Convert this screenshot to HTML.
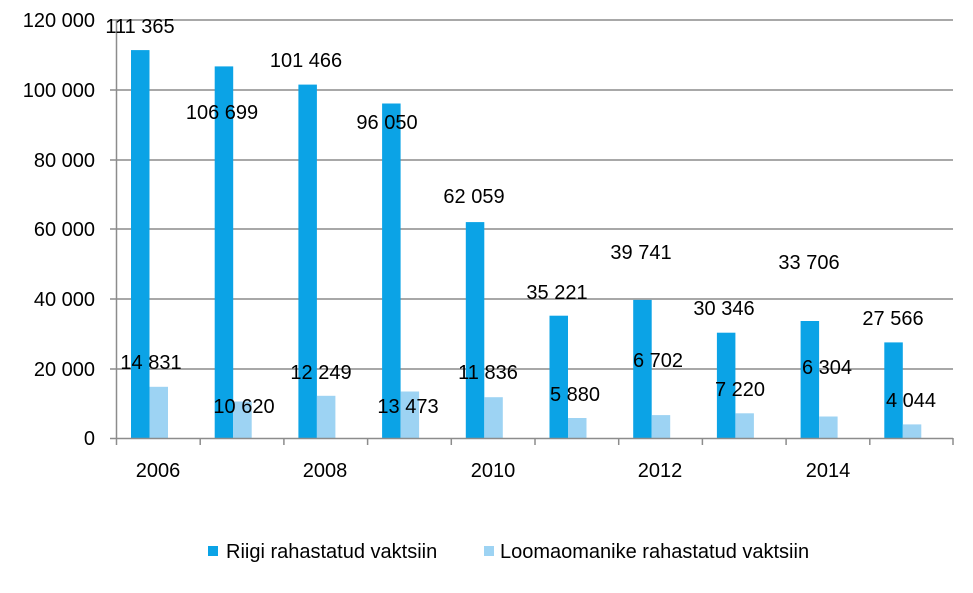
<!DOCTYPE html>
<html><head><meta charset="utf-8"><style>
body{margin:0;background:#fff;}
svg text{font-family:"Liberation Sans Narrow","Liberation Sans",sans-serif;font-size:20px;fill:#000;}
</style></head><body>
<svg width="973" height="588" xmlns="http://www.w3.org/2000/svg">
<g stroke="#8c8c8c" stroke-width="1.5">
<line x1="110" y1="20" x2="953" y2="20"/>
<line x1="110" y1="90" x2="953" y2="90"/>
<line x1="110" y1="160" x2="953" y2="160"/>
<line x1="110" y1="229" x2="953" y2="229"/>
<line x1="110" y1="299" x2="953" y2="299"/>
<line x1="110" y1="369" x2="953" y2="369"/>
</g>
<g fill="#0ba3e6">
<rect x="131" y="50.1" width="18.5" height="388.4"/>
<rect x="214.7" y="66.4" width="18.5" height="372.1"/>
<rect x="298.4" y="84.6" width="18.5" height="353.9"/>
<rect x="382.1" y="103.5" width="18.5" height="335"/>
<rect x="465.8" y="222.1" width="18.5" height="216.4"/>
<rect x="549.5" y="315.7" width="18.5" height="122.8"/>
<rect x="633.2" y="299.9" width="18.5" height="138.6"/>
<rect x="716.9" y="332.7" width="18.5" height="105.8"/>
<rect x="800.6" y="321" width="18.5" height="117.5"/>
<rect x="884.3" y="342.4" width="18.5" height="96.1"/>
</g>
<g fill="#9dd3f3">
<rect x="149.5" y="386.8" width="18.5" height="51.7"/>
<rect x="233.2" y="401.5" width="18.5" height="37"/>
<rect x="316.9" y="395.8" width="18.5" height="42.7"/>
<rect x="400.6" y="391.5" width="18.5" height="47"/>
<rect x="484.3" y="397.2" width="18.5" height="41.3"/>
<rect x="568" y="418" width="18.5" height="20.5"/>
<rect x="651.7" y="415.1" width="18.5" height="23.4"/>
<rect x="735.4" y="413.3" width="18.5" height="25.2"/>
<rect x="819.1" y="416.5" width="18.5" height="22"/>
<rect x="902.8" y="424.4" width="18.5" height="14.1"/>
</g>
<g stroke="#8c8c8c" stroke-width="1.5">
<line x1="116.5" y1="20" x2="116.5" y2="438"/>
<line x1="110" y1="438.5" x2="953" y2="438.5"/>
<line x1="116.5" y1="438" x2="116.5" y2="445"/>
<line x1="200.2" y1="438" x2="200.2" y2="445"/>
<line x1="283.9" y1="438" x2="283.9" y2="445"/>
<line x1="367.6" y1="438" x2="367.6" y2="445"/>
<line x1="451.3" y1="438" x2="451.3" y2="445"/>
<line x1="535" y1="438" x2="535" y2="445"/>
<line x1="618.7" y1="438" x2="618.7" y2="445"/>
<line x1="702.4" y1="438" x2="702.4" y2="445"/>
<line x1="786.1" y1="438" x2="786.1" y2="445"/>
<line x1="869.8" y1="438" x2="869.8" y2="445"/>
<line x1="953" y1="438" x2="953" y2="445"/>
</g>
<g text-anchor="end">
<text x="95" y="27">120 000</text>
<text x="95" y="97">100 000</text>
<text x="95" y="167">80 000</text>
<text x="95" y="236">60 000</text>
<text x="95" y="306">40 000</text>
<text x="95" y="376">20 000</text>
<text x="95" y="445">0</text>
</g>
<g text-anchor="middle">
<text x="158" y="477">2006</text>
<text x="325" y="477">2008</text>
<text x="493" y="477">2010</text>
<text x="660" y="477">2012</text>
<text x="828" y="477">2014</text>
<text x="140" y="33">111 365</text>
<text x="151" y="369">14 831</text>
<text x="222" y="119">106 699</text>
<text x="244" y="413">10 620</text>
<text x="306" y="67">101 466</text>
<text x="321" y="379">12 249</text>
<text x="387" y="129">96 050</text>
<text x="408" y="413">13 473</text>
<text x="474" y="203">62 059</text>
<text x="488" y="379">11 836</text>
<text x="557" y="299">35 221</text>
<text x="575" y="401">5 880</text>
<text x="641" y="259">39 741</text>
<text x="658" y="367">6 702</text>
<text x="724" y="315">30 346</text>
<text x="740" y="396">7 220</text>
<text x="809" y="269">33 706</text>
<text x="827" y="374">6 304</text>
<text x="893" y="325">27 566</text>
<text x="911" y="407">4 044</text>
</g>
<rect x="208" y="546" width="10" height="10" fill="#0ba3e6"/>
<text x="226" y="558">Riigi rahastatud vaktsiin</text>
<rect x="484" y="546" width="10" height="10" fill="#9dd3f3"/>
<text x="500" y="558">Loomaomanike rahastatud vaktsiin</text>
</svg>
</body></html>
